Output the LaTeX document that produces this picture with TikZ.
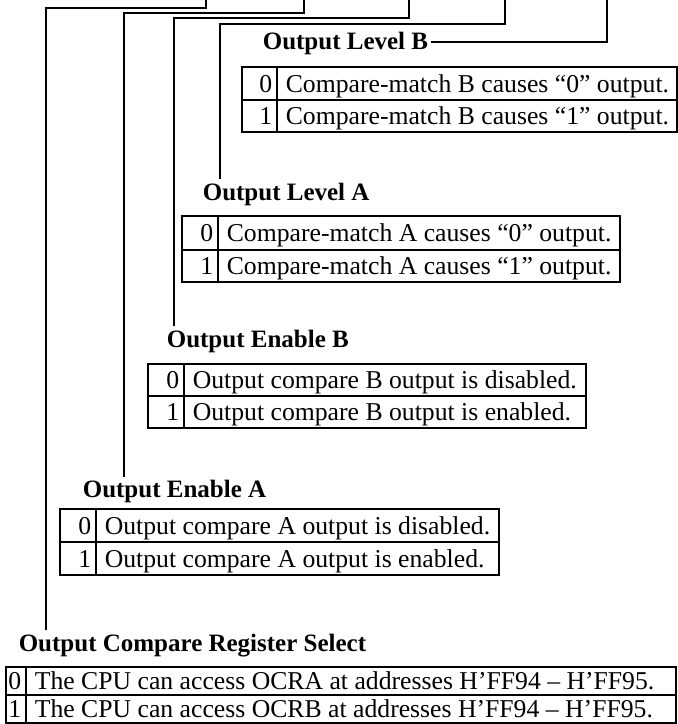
\documentclass[tikz,border=0pt]{standalone}
\usepackage{fontspec}
\setmainfont{Liberation Serif}
\newcommand\mytab[9]{%
  \draw[tabline] (#2,#5) rectangle (#4,#7);
  \draw[tabline] (#2,#6) -- (#4,#6);
  \draw[tabline] (#3,#5) -- (#3,#7+1);
  \node[dig]  (#1d0) at ({#3-4},{(#5+#6)/2+8.5}) {0};
  \node[cell] (#1t0) at ({#3+8},{(#5+#6)/2+8.5}) {#8};
  \node[dig]  (#1d1) at ({#3-4},{(#6+#7)/2+8.5}) {1};
  \node[cell] (#1t1) at ({#3+8},{(#6+#7)/2+8.5}) {#9};
}
\begin{document}
\begin{tikzpicture}[x=1pt,y=-1pt,line width=1.6pt,
  lbl/.style={font=\fontsize{25}{30}\selectfont\bfseries,inner sep=0pt,anchor=base west},
  cell/.style={font=\fontsize{25.7}{30}\selectfont,inner sep=0pt,anchor=base west},
  dig/.style={font=\fontsize{25.7}{30}\selectfont,inner sep=0pt,anchor=base east},
  tabline/.style={line width=1.6pt},
  conn/.style={line width=1.6pt}]
\useasboundingbox (0,0) rectangle (678,724);

% labels
\node[lbl] (lblB) at (262,49)  {Output Level B};
\node[lbl] (lblA) at (202,200) {Output Level A};
\node[lbl] (lblEB) at (166,347) {Output Enable B};
\node[lbl] (lblEA) at (82,497)  {Output Enable A};
\node[lbl] (lblS) at (18,651)  {Output Compare Register Select};

% tables
\mytab{tb}{242}{277}{677}{67}{100}{132}{Compare-match B causes “0” output.}{Compare-match B causes “1” output.}
\mytab{ta}{182}{218}{620}{216}{250}{282}{Compare-match A causes “0” output.}{Compare-match A causes “1” output.}
\mytab{teb}{148}{184}{586}{364}{396}{428}{Output compare B output is disabled.}{Output compare B output is enabled.}
\mytab{tea}{60}{96}{499}{509}{542}{575}{Output compare A output is disabled.}{Output compare A output is enabled.}
\mytab{ts}{6}{26}{676}{667}{695}{723}{The CPU can access OCRA at addresses H’FF94 – H’FF95.}{The CPU can access OCRB at addresses H’FF94 – H’FF95.}

% connector coordinates
\coordinate (s1) at (46,630);  \coordinate (k1) at (206,8);  \coordinate (t1) at (206,0);
\coordinate (s2) at (124,477); \coordinate (k2) at (304,13); \coordinate (t2) at (304,0);
\coordinate (s3) at (174,326); \coordinate (k3) at (409,18); \coordinate (t3) at (409,0);
\coordinate (s4) at (220,179); \coordinate (k4) at (505,24); \coordinate (t4) at (505,0);
\coordinate (k5) at (607,42);  \coordinate (t5) at (607,0);

\draw[conn] (s1) |- (k1) -- (t1);
\draw[conn] (s2) |- (k2) -- (t2);
\draw[conn] (s3) |- (k3) -- (t3);
\draw[conn] (s4) |- (k4) -- (t4);
\draw[conn] ([xshift=2pt]lblB.base east |- k5) -- (k5) -- (t5);
\end{tikzpicture}
\end{document}
